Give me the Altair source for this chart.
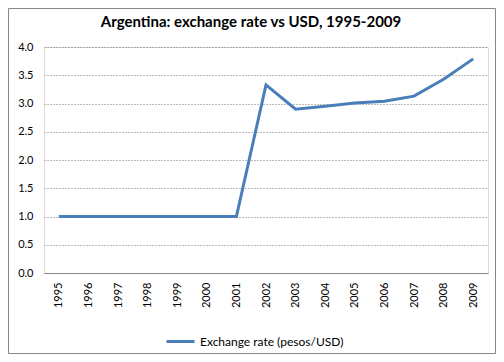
import altair as alt
import pandas as pd

years = [str(y) for y in range(1995, 2010)]
rates = [1.0, 1.0, 1.0, 1.0, 1.0, 1.0, 1.0, 3.33, 2.90, 2.95, 3.01, 3.04, 3.13, 3.43, 3.79]
series = "Exchange rate (pesos/USD)"
title_text = "Argentina: exchange rate vs USD, 1995-2009"

df = pd.DataFrame({"year": years, "rate": rates, "series": [series] * len(years)})

FONT = "Lato"

line = alt.Chart(df).mark_line(strokeWidth=3, color="#4a7ebb").encode(
    x=alt.X("year:O", sort=years, scale=alt.Scale(paddingOuter=0.5),
            axis=alt.Axis(title=None, labelAngle=270, labelPadding=9, ticks=False,
                          domainColor="#868686", labelFont=FONT, labelFontSize=11,
                          labelColor="#000000", grid=False)),
    y=alt.Y("rate:Q", scale=alt.Scale(domain=[0, 4], nice=False),
            axis=alt.Axis(title=None, values=[0, 0.5, 1, 1.5, 2, 2.5, 3, 3.5, 4], format=".1f",
                          ticks=False, domain=False, labelPadding=11, labelFont=FONT,
                          labelFontSize=11, labelColor="#000000", grid=True,
                          gridColor="#767676", gridDash=[1, 2], gridWidth=1)),
    stroke=alt.Stroke("series:N", scale=alt.Scale(range=["#4a7ebb"]),
                      legend=alt.Legend(title=None, orient="none", legendX=121, legendY=279,
                                        symbolType="stroke", symbolSize=784, symbolStrokeWidth=3,
                                        labelFont=FONT, labelFontSize=12, labelColor="#000000")),
)

border_df = pd.DataFrame({"a": [0]})
border = alt.Chart(border_df).mark_rect(fill="transparent", stroke="#868686", strokeWidth=1, clip=False).encode(
    x=alt.value(-35.5), x2=alt.value(451.5), y=alt.value(-38.5), y2=alt.value(306.5)
)

title_df = pd.DataFrame({"t": [title_text]})
title = alt.Chart(title_df).mark_text(font=FONT, fontSize=15, fontWeight="bold", color="#000000",
                                      align="center", baseline="middle").encode(
    text="t:N", x=alt.value(207), y=alt.value(-25)
)

chart = alt.layer(border, line, title).properties(
    width=444, height=226,
    padding={"left": 36, "top": 39, "right": 8, "bottom": 81},
    autosize=alt.AutoSizeParams(type="none"),
).configure_view(stroke=None).configure(background="white")

chart.save("out.html", embed_options={"renderer": "svg", "actions": False})
